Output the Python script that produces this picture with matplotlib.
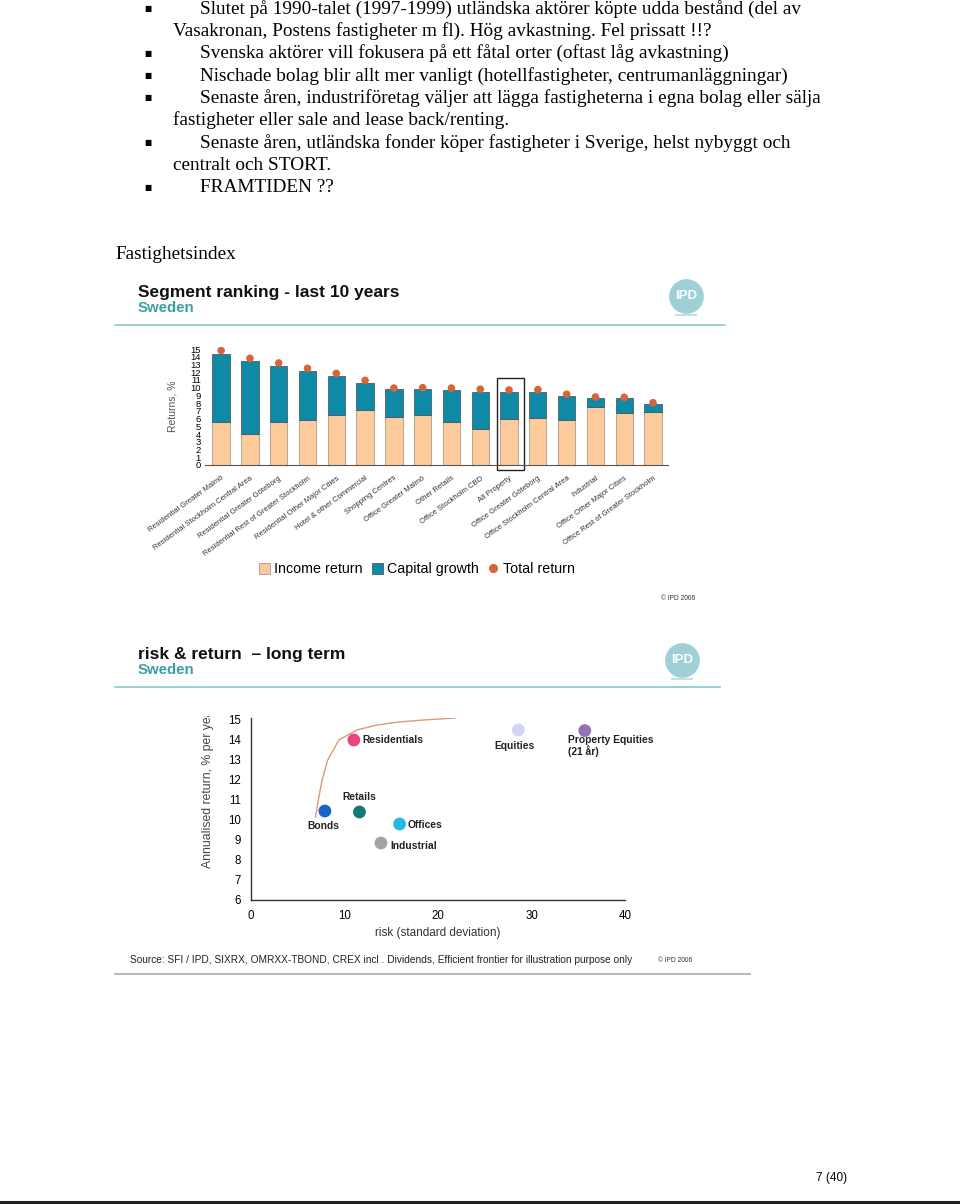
import matplotlib
matplotlib.use('Agg')
import matplotlib.pyplot as plt
from matplotlib.patches import Patch, Rectangle
from matplotlib.lines import Line2D

W, H = 960, 1204

# ---- data -------------------------------------------------------------
segments = ['Residential Greater Malmö', 'Residential Stockholm Central Area',
            'Residential Greater Göteborg', 'Residential Rest of Greater Stockholm',
            'Residential Other Major Cities', 'Hotel & other Commercial',
            'Shopping Centres', 'Office Greater Malmö', 'Other Retails',
            'Office Stockholm CBD', 'All Property', 'Office Greater Göteborg',
            'Office Stockholm Central Area', 'Industrial',
            'Office Other Major Cities', 'Office Rest of Greater Stockholm']
income_return = [5.6, 4.0, 5.6, 5.8, 6.45, 7.1, 6.25, 6.45, 5.5, 4.7, 5.95, 6.1, 5.8, 7.55, 6.7, 6.9]
capital_growth = [8.75, 9.4, 7.2, 6.35, 5.05, 3.55, 3.55, 3.35, 4.2, 4.8, 3.55, 3.35, 3.15, 1.1, 1.95, 1.0]
total_return = [14.8, 13.8, 13.2, 12.5, 11.85, 10.95, 9.95, 10.0, 9.95, 9.8, 9.7, 9.75, 9.15, 8.8, 8.75, 8.05]
seg_ticks = list(range(0, 16))

assets = ['Residentials', 'Bonds', 'Retails', 'Offices', 'Industrial', 'Equities',
          'Property Equities\n(21 år)']
risk = [11.0, 7.9, 11.6, 15.9, 13.9, 28.6, 35.7]
ret = [14.0, 10.45, 10.4, 9.8, 8.85, 14.5, 14.47]
asset_colors = ['#e8467c', '#1565c8', '#17787a', '#22b9e2', '#a3a3a3', '#d4d4f4', '#9473b4']
frontier_risk = [6.9, 7.2, 7.6, 8.2, 9.4, 11.3, 13.5, 15.8, 18.5, 21.8]
frontier_ret = [10.15, 11.0, 12.0, 13.0, 14.0, 14.5, 14.75, 14.9, 15.0, 15.1]

bullets = [
    (True, 'Slutet på 1990-talet (1997-1999) utländska aktörer köpte udda bestånd (del av'),
    (False, 'Vasakronan, Postens fastigheter m fl). Hög avkastning. Fel prissatt !!?'),
    (True, 'Svenska aktörer vill fokusera på ett fåtal orter (oftast låg avkastning)'),
    (True, 'Nischade bolag blir allt mer vanligt (hotellfastigheter, centrumanläggningar)'),
    (True, 'Senaste åren, industriföretag väljer att lägga fastigheterna i egna bolag eller sälja'),
    (False, 'fastigheter eller sale and lease back/renting.'),
    (True, 'Senaste åren, utländska fonder köper fastigheter i Sverige, helst nybyggt och'),
    (False, 'centralt och STORT.'),
    (True, 'FRAMTIDEN ??'),
]

PEACH = '#fdca9b'
TEAL = '#0f8aa6'
DOT = '#d8643a'
HEAD_TEAL = '#3a9fa3'
SANS = ['Liberation Sans', 'DejaVu Sans']
SERIF = ['Liberation Serif', 'DejaVu Serif']


def fx(x):
    return x / W


def fy(y):
    return 1 - y / H


fig = plt.figure(figsize=(W / 100, H / 100), dpi=100)
fig.patch.set_facecolor('white')

# ---- page text ----------------------------------------------------------
y0, dy = 13.5, 22.35
for i, (is_bullet, txt) in enumerate(bullets):
    yb = y0 + i * dy
    if is_bullet:
        fig.text(fx(148), fy(yb - 5), '■', fontsize=5.5, family='DejaVu Sans',
                 ha='center', va='center')
        fig.text(fx(200), fy(yb), txt, fontsize=13.9, family=SERIF, va='baseline')
    else:
        fig.text(fx(173), fy(yb), txt, fontsize=13.9, family=SERIF, va='baseline')

fig.text(fx(115), fy(259), 'Fastighetsindex', fontsize=13.9, family=SERIF, va='baseline')
fig.text(fx(847), fy(1178), '7 (40)', fontsize=8.5, family=SANS, ha='right', va='center')
fig.add_artist(Line2D([0, 1], [fy(1201.5), fy(1201.5)], color='#222222', lw=2.2,
                      transform=fig.transFigure))


def slide_header(title, top, line_y, line_x1, logo_x, logo_y):
    fig.text(fx(138), fy(top), title, fontsize=12.5, family=SANS, weight='bold',
             va='center', color='#111111')
    fig.text(fx(138), fy(top + 15), 'Sweden', fontsize=10.8, family=SANS, weight='bold',
             va='center', color=HEAD_TEAL)
    fig.add_artist(Line2D([fx(115), fx(line_x1)], [fy(line_y), fy(line_y)],
                          color='#8cc8cc', lw=1.2, transform=fig.transFigure))
    fig.add_artist(Line2D([fx(logo_x)], [fy(logo_y)], marker='o', ms=25, mec='none',
                          mfc='#9fd0d6', transform=fig.transFigure))
    fig.text(fx(logo_x), fy(logo_y), 'IPD', fontsize=9.5, family=SANS, weight='bold',
             color='white', ha='center', va='center')
    fig.add_artist(Line2D([fx(logo_x - 10), fx(logo_x + 10)], [fy(logo_y + 19)] * 2,
                          color='#c8dfe2', lw=1.5, transform=fig.transFigure))


# ---- chart 1: segment ranking ---------------------------------------------
slide_header('Segment ranking - last 10 years', 293, 325, 725, 686, 296)

ax1 = fig.add_axes([fx(205), fy(465), (668 - 205) / W, (465 - 346.7) / H])
x = list(range(len(segments)))
ax1.bar(x, income_return, width=0.6, color=PEACH, edgecolor='#9a8a7a', lw=0.5)
ax1.bar(x, capital_growth, width=0.6, bottom=income_return, color=TEAL,
        edgecolor='#3a4a50', lw=0.5)
ax1.scatter(x, total_return, s=30, color=DOT, zorder=3, edgecolors='none')
ax1.set_xlim(-0.56, 15.52)
ax1.set_ylim(0, 15.3)
ax1.set_yticks(seg_ticks)
ax1.set_yticklabels([str(t) for t in seg_ticks], fontsize=6.8, family=SANS)
ax1.set_xticks(x)
ax1.set_xticklabels(segments, rotation=36, ha='right', rotation_mode='anchor',
                    fontsize=5.5, family=SANS, color='#333333')
ax1.tick_params(length=0, pad=3)
ax1.tick_params(axis='x', pad=7)
for s in ['top', 'right', 'left']:
    ax1.spines[s].set_visible(False)
ax1.spines['bottom'].set_color('#555555')
ax1.spines['bottom'].set_linewidth(0.8)
ax1.set_ylabel('Returns, %', fontsize=7.5, family=SANS, color='#555555', labelpad=9)
ax1.add_patch(Rectangle((9.58, -0.65), 0.94, 11.9, fill=False, ec='#222222', lw=1.0,
                        clip_on=False))

handles = [Patch(facecolor=PEACH, edgecolor='#9a8a7a', lw=0.5),
           Patch(facecolor=TEAL, edgecolor='#3a4a50', lw=0.5),
           Line2D([], [], marker='o', ls='none', ms=5.5, color=DOT)]
fig.legend(handles, ['Income return', 'Capital growth', 'Total return'],
           loc='center', bbox_to_anchor=(fx(417), fy(569)), ncol=3, frameon=False,
           prop={'family': SANS, 'size': 10.3}, handlelength=0.8, handleheight=0.8,
           handletextpad=0.3, columnspacing=0.6)
fig.text(fx(695), fy(598), '© IPD 2006', fontsize=4.8, family=SANS, ha='right',
         va='center', color='#333333')

# ---- chart 2: risk & return ---------------------------------------------
slide_header('risk & return  – long term', 655, 687, 720, 682, 660)

ax2 = fig.add_axes([fx(251), fy(900), (625 - 251) / W, (900 - 718) / H])
ax2.plot(frontier_risk, frontier_ret, color='#d99a74', lw=1.0)
ax2.scatter(risk, ret, s=85, c=asset_colors, edgecolors='none', zorder=3)
offsets = {
    'Residentials': (6, 0, 'left', 'center'),
    'Bonds': (-1, -7, 'center', 'top'),
    'Retails': (0, 7, 'center', 'bottom'),
    'Offices': (6, -1, 'left', 'center'),
    'Industrial': (7, -2, 'left', 'center'),
    'Equities': (-3, -8, 'center', 'top'),
    'Property Equities\n(21 år)': (-12, -3, 'left', 'top'),
}
for name, rx, ry in zip(assets, risk, ret):
    ox, oy, ha, va = offsets[name]
    ax2.annotate(name, (rx, ry), xytext=(ox, oy), textcoords='offset points',
                 ha=ha, va=va, fontsize=7.4, family=SANS, weight='bold',
                 color='#222222', linespacing=1.05)
ax2.set_xlim(0, 40)
ax2.set_ylim(6, 15.1)
ax2.set_xticks([0, 10, 20, 30, 40])
ax2.set_yticks(range(6, 16))
ax2.tick_params(length=0, labelsize=8.3, pad=7)
for lab in ax2.get_xticklabels() + ax2.get_yticklabels():
    lab.set_family(SANS)
for s in ['top', 'right']:
    ax2.spines[s].set_visible(False)
for s in ['left', 'bottom']:
    ax2.spines[s].set_color('#333333')
    ax2.spines[s].set_linewidth(1.0)
ax2.set_xlabel('risk (standard deviation)', fontsize=8.5, family=SANS,
               color='#333333', labelpad=4)
# y label is cut off at the top of the slide picture in the original
ylab = fig.text(fx(208), fy(868), 'Annualised return, % per year', rotation=90,
                fontsize=8.8, family=SANS, color='#444444', ha='center', va='bottom')
clip = Rectangle((0, fy(880)), 1, fy(716) - fy(880), transform=fig.transFigure,
                 visible=False)
fig.add_artist(clip)
ylab.set_clip_path(clip)
ylab.set_clip_on(True)

fig.text(fx(130), fy(960), 'Source: SFI / IPD, SIXRX, OMRXX-TBOND, CREX incl . Dividends, '
         'Efficient frontier for illustration purpose only', fontsize=7.3, family=SANS,
         va='center', color='#222222')
fig.text(fx(692), fy(960), '© IPD 2006', fontsize=4.8, family=SANS, ha='right',
         va='center', color='#333333')
fig.add_artist(Line2D([fx(115), fx(750)], [fy(974), fy(974)], color='#aaaaaa', lw=1.2,
                      transform=fig.transFigure))

fig.savefig('out.png', dpi=100)
